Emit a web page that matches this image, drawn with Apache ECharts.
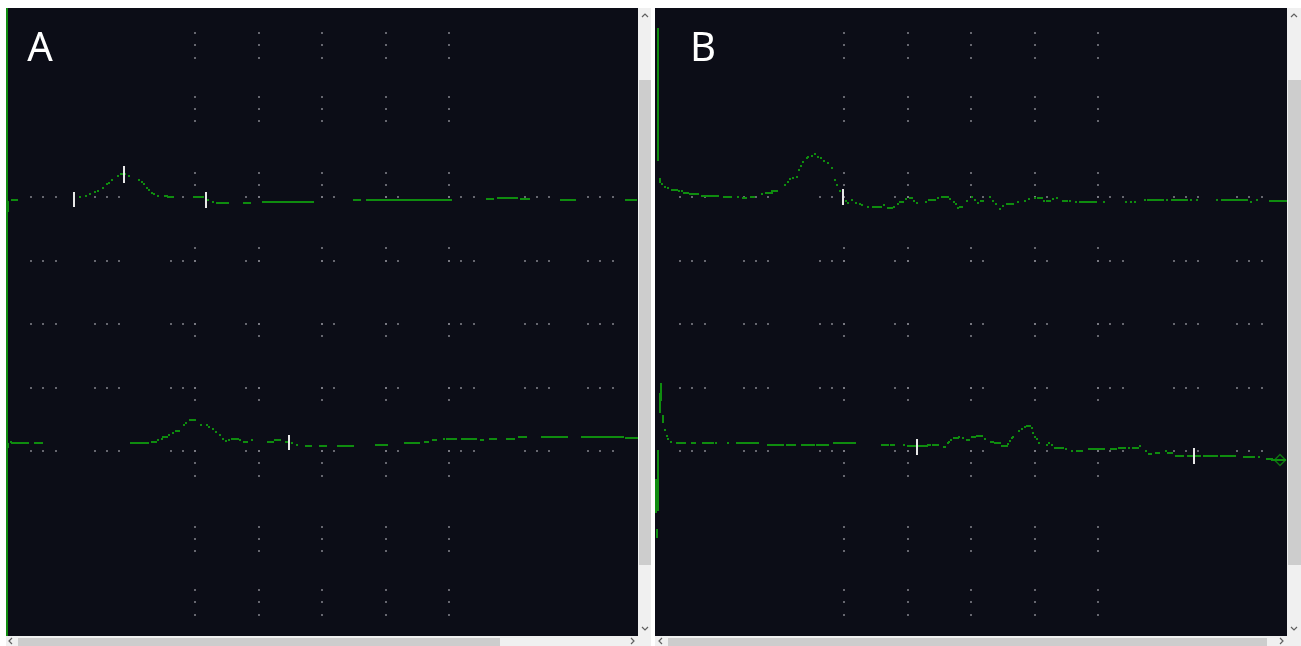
<!DOCTYPE html>
<html lang="en">
<head>
<meta charset="UTF-8">
<title>ECG A / B</title>
<script src="https://cdn.jsdelivr.net/npm/echarts@6.0.0/dist/echarts.min.js"></script>
<style>
    html, body { margin: 0; padding: 0; background: #ffffff; }
    #main { width: 1301px; height: 646px; }
</style>
</head>
<body>
<div id="main"></div>
<script type="text/javascript">
    // screen grid: major lines and the minor dot positions (samples / rows inside a panel)
    var gridMajor = [189, 253, 316, 380, 443];
    var gridMinor = [25, 37, 50, 89, 101, 113, 165, 177, 189, 240, 253, 316, 328, 380, 392,
        443, 455, 468, 519, 531, 543, 582, 594, 607];
    var panelLabels = ['A', 'B'];

    // traces: [sampleFrom, sampleTo, row]
    var aTopTrace = [
        [6, 11, 192], [74, 74, 189], [80, 80, 188], [84, 84, 186], [89, 89, 184], [92, 92, 183],
        [97, 97, 180], [101, 101, 176], [103, 103, 175], [106, 106, 172], [112, 112, 168], [115, 119, 166],
        [123, 123, 168], [133, 133, 172], [136, 136, 174], [138, 138, 176], [141, 141, 180], [143, 143, 182],
        [146, 146, 185], [148, 148, 186], [152, 152, 188], [159, 161, 188], [162, 162, 189], [164, 167, 189],
        [188, 197, 189], [202, 202, 192], [207, 207, 194], [211, 222, 195], [238, 244, 195], [257, 307, 194],
        [348, 354, 192], [361, 445, 192], [481, 487, 191], [492, 511, 190], [515, 523, 191], [555, 569, 192],
        [620, 630, 192]
    ];
    var aBottomTrace = [
        [5, 5, 434], [6, 22, 435], [29, 36, 435], [125, 142, 435], [146, 150, 434], [152, 152, 432],
        [156, 156, 431], [157, 161, 429], [163, 163, 427], [167, 167, 425], [170, 173, 423], [178, 178, 417],
        [180, 180, 415], [184, 189, 412], [195, 195, 417], [201, 201, 417], [203, 203, 419], [207, 207, 421],
        [210, 210, 424], [214, 214, 427], [217, 217, 431], [220, 220, 433], [223, 223, 432], [226, 232, 431],
        [234, 234, 432], [238, 241, 434], [246, 246, 432], [262, 267, 434], [269, 274, 432], [280, 283, 434],
        [286, 286, 435], [291, 291, 437], [300, 305, 438], [314, 320, 438], [332, 347, 438], [370, 381, 437],
        [399, 413, 435], [419, 422, 434], [427, 430, 432], [438, 438, 431], [441, 450, 431], [456, 470, 431],
        [475, 477, 432], [484, 490, 431], [501, 508, 431], [513, 520, 429], [536, 561, 429], [576, 617, 429],
        [620, 631, 430]
    ];
    var bTopTrace = [
        [7, 7, 176], [10, 10, 179], [13, 13, 180], [17, 22, 182], [24, 24, 183], [27, 27, 183], [29, 33, 185],
        [35, 43, 186], [47, 50, 188], [52, 63, 188], [69, 76, 189], [83, 83, 189], [88, 91, 190], [96, 99, 189],
        [107, 107, 186], [111, 117, 185], [117, 122, 183], [130, 130, 177], [133, 133, 174], [135, 135, 171],
        [138, 138, 170], [142, 142, 169], [144, 144, 162], [146, 146, 158], [148, 148, 154], [152, 152, 150],
        [153, 153, 149], [157, 157, 148], [160, 160, 146], [163, 163, 149], [166, 166, 150], [169, 169, 153],
        [173, 173, 155], [177, 177, 160], [180, 180, 172], [182, 182, 177], [185, 185, 183], [188, 188, 187],
        [191, 191, 193], [193, 193, 195], [197, 197, 192], [201, 201, 195], [205, 205, 196], [207, 207, 197],
        [213, 213, 199], [218, 226, 199], [229, 229, 197], [233, 237, 200], [239, 239, 199], [243, 243, 196],
        [245, 248, 194], [251, 251, 191], [255, 257, 190], [259, 259, 193], [262, 262, 195], [271, 271, 194],
        [274, 280, 192], [283, 283, 190], [287, 293, 189], [295, 295, 191], [299, 299, 194], [301, 301, 196],
        [303, 303, 200], [305, 307, 199], [312, 312, 193], [317, 317, 189], [320, 320, 192], [323, 323, 195],
        [326, 328, 193], [335, 335, 189], [338, 338, 193], [341, 341, 196], [345, 345, 201], [348, 348, 198],
        [352, 358, 196], [363, 363, 194], [370, 370, 193], [374, 374, 191], [380, 380, 190], [383, 387, 190],
        [389, 389, 193], [392, 395, 193], [398, 398, 191], [402, 402, 190], [408, 412, 193], [415, 415, 193],
        [421, 421, 194], [425, 432, 194], [434, 441, 194], [449, 449, 194], [471, 471, 194], [476, 476, 194],
        [480, 480, 194], [490, 490, 192], [493, 508, 192], [512, 512, 192], [517, 532, 192], [536, 536, 192],
        [542, 542, 192], [562, 562, 192], [567, 586, 192], [588, 592, 192], [596, 596, 194], [602, 602, 192],
        [615, 632, 193]
    ];
    var bBottomTrace = [
        [10, 10, 422], [12, 12, 428], [13, 13, 431], [16, 16, 434], [22, 28, 435], [30, 30, 435], [37, 40, 435],
        [48, 56, 435], [58, 58, 435], [61, 61, 435], [73, 73, 435], [82, 90, 435], [91, 98, 435], [99, 103, 435],
        [113, 128, 437], [132, 140, 437], [147, 159, 437], [162, 173, 437], [179, 183, 435], [185, 187, 435],
        [188, 200, 435], [227, 233, 437], [236, 239, 437], [249, 249, 437], [253, 272, 438], [273, 275, 437],
        [278, 283, 437], [289, 290, 439], [293, 293, 435], [294, 294, 434], [296, 296, 432], [299, 303, 430],
        [304, 304, 429], [308, 308, 430], [312, 314, 432], [317, 320, 429], [322, 327, 428], [330, 330, 431],
        [336, 338, 434], [340, 345, 435], [347, 352, 438], [353, 353, 436], [355, 355, 433], [357, 357, 430],
        [358, 358, 429], [364, 364, 423], [367, 367, 421], [370, 370, 419], [372, 375, 418], [377, 377, 420],
        [378, 378, 425], [380, 380, 429], [382, 382, 431], [384, 384, 435], [392, 392, 437], [394, 394, 435],
        [397, 397, 437], [400, 408, 440], [411, 411, 441], [417, 417, 443], [422, 427, 443], [434, 441, 441],
        [443, 447, 441], [449, 449, 441], [456, 461, 441], [464, 470, 440], [474, 474, 440], [478, 478, 440],
        [480, 483, 440], [485, 485, 438], [491, 491, 443], [494, 496, 446], [501, 504, 445], [511, 511, 443],
        [513, 517, 445], [521, 528, 448], [533, 545, 448], [549, 560, 448], [562, 562, 448], [566, 568, 448],
        [569, 580, 448], [589, 599, 449], [604, 604, 449], [612, 617, 451], [617, 630, 452]
    ];

    // vertical lead bars: [sample, rowFrom, rowTo]
    var aLeadBars = [[1, 0, 628], [2, 193, 204], [2, 435, 440]];
    var bLeadBars = [[3, 20, 153], [5, 170, 175], [6, 375, 393], [5, 385, 405], [8, 407, 415],
        [3, 442, 503], [1, 471, 505], [2, 521, 530]];

    // white cursor markers: [sample, rowFrom, rowTo]
    var aMarkers = [[68, 184, 199], [118, 158, 175], [200, 184, 200], [283, 427, 442]];
    var bMarkers = [[188, 181, 197], [262, 431, 447], [539, 440, 456]];
    var bEndMarker = [[625, 452]];

    var GREEN = '#0f8c0f';
    var BG = '#0c0d17';

    var myChart = echarts.init(document.getElementById('main'), null, {renderer: 'canvas'});

    var dots = [];
    gridMajor.forEach(function (m) {
        gridMinor.forEach(function (n) {
            dots.push([n, m]);
            dots.push([m, n]);
        });
    });

    function segSeries(idx, data, color) {
        return {
            type: 'custom',
            xAxisIndex: idx,
            yAxisIndex: idx,
            silent: true,
            z: 3,
            data: data,
            renderItem: function (params, api) {
                var a = api.coord([api.value(0), api.value(2)]);
                var b = api.coord([api.value(1), api.value(2)]);
                return {
                    type: 'rect',
                    shape: {x: a[0] - 1, y: a[1] - 1, width: b[0] - a[0] + 2, height: 2},
                    style: {fill: color}
                };
            }
        };
    }

    function barSeries(idx, data, color, z) {
        return {
            type: 'custom',
            xAxisIndex: idx,
            yAxisIndex: idx,
            silent: true,
            z: z,
            data: data,
            renderItem: function (params, api) {
                var a = api.coord([api.value(0), api.value(1)]);
                var b = api.coord([api.value(0), api.value(2)]);
                return {
                    type: 'rect',
                    shape: {x: a[0] - 1, y: a[1], width: 2, height: b[1] - a[1]},
                    style: {fill: color}
                };
            }
        };
    }

    function dotSeries(idx) {
        return {
            type: 'scatter',
            xAxisIndex: idx,
            yAxisIndex: idx,
            silent: true,
            symbol: 'rect',
            symbolSize: 2,
            z: 1,
            itemStyle: {color: '#7d7d86'},
            data: dots
        };
    }

    function chevron(points) {
        return {
            type: 'polyline',
            shape: {points: points},
            style: {stroke: '#606060', lineWidth: 1.2, fill: null},
            z: 20
        };
    }

    function rect(x, y, w, h, fill) {
        return {type: 'rect', shape: {x: x, y: y, width: w, height: h}, style: {fill: fill}, z: 10};
    }

    var graphics = [
        // scrollbars of panel A
        rect(638, 8, 13, 638, '#f0f0f0'),
        rect(639, 80, 12, 485, '#cdcdcd'),
        rect(6, 636, 632, 10, '#f0f0f0'),
        rect(18, 638, 482, 8, '#cdcdcd'),
        // scrollbars of panel B
        rect(1287, 8, 14, 638, '#f0f0f0'),
        rect(1288, 80, 13, 485, '#cdcdcd'),
        rect(655, 636, 632, 10, '#f0f0f0'),
        rect(668, 638, 599, 8, '#cdcdcd'),
        chevron([[642, 17], [645, 14], [648, 17]]),
        chevron([[642, 627], [645, 630], [648, 627]]),
        chevron([[12, 638], [9, 641], [12, 644]]),
        chevron([[631, 638], [634, 641], [631, 644]]),
        chevron([[1291, 17], [1294, 14], [1297, 17]]),
        chevron([[1291, 627], [1294, 630], [1297, 627]]),
        chevron([[662, 638], [659, 641], [662, 644]]),
        chevron([[1280, 638], [1283, 641], [1280, 644]]),
        {
            type: 'text', x: 40, y: 50, z: 30,
            style: {text: panelLabels[0], fill: '#ffffff', fontSize: 40, fontFamily: 'Noto Sans',
                align: 'center', verticalAlign: 'middle'}
        },
        {
            type: 'text', x: 703, y: 50, z: 30,
            style: {text: panelLabels[1], fill: '#ffffff', fontSize: 40, fontFamily: 'Noto Sans',
                align: 'center', verticalAlign: 'middle'}
        }
    ];

    var hidden = {show: false};
    var option = {
        animation: false,
        backgroundColor: '#ffffff',
        grid: [
            {left: 6, top: 8, width: 632, height: 628, show: true, backgroundColor: BG, borderWidth: 0},
            {left: 655, top: 8, width: 632, height: 628, show: true, backgroundColor: BG, borderWidth: 0}
        ],
        xAxis: [
            {gridIndex: 0, type: 'value', min: 0, max: 632, show: false},
            {gridIndex: 1, type: 'value', min: 0, max: 632, show: false}
        ],
        yAxis: [
            {gridIndex: 0, type: 'value', min: 0, max: 628, inverse: true, show: false},
            {gridIndex: 1, type: 'value', min: 0, max: 628, inverse: true, show: false}
        ],
        graphic: graphics,
        series: [
            dotSeries(0),
            dotSeries(1),
            segSeries(0, aTopTrace, GREEN),
            segSeries(0, aBottomTrace, GREEN),
            segSeries(1, bTopTrace, GREEN),
            segSeries(1, bBottomTrace, GREEN),
            barSeries(0, aLeadBars, GREEN, 3),
            barSeries(1, bLeadBars, GREEN, 3),
            barSeries(0, aMarkers, '#e8e8e8', 5),
            barSeries(1, bMarkers, '#e8e8e8', 5),
            {
                type: 'scatter',
                xAxisIndex: 1,
                yAxisIndex: 1,
                silent: true,
                symbol: 'diamond',
                symbolSize: 11,
                z: 6,
                itemStyle: {color: 'rgba(0,0,0,0)', borderColor: GREEN, borderWidth: 1.5},
                data: bEndMarker
            }
        ]
    };

    myChart.setOption(option);
</script>
</body>
</html>
